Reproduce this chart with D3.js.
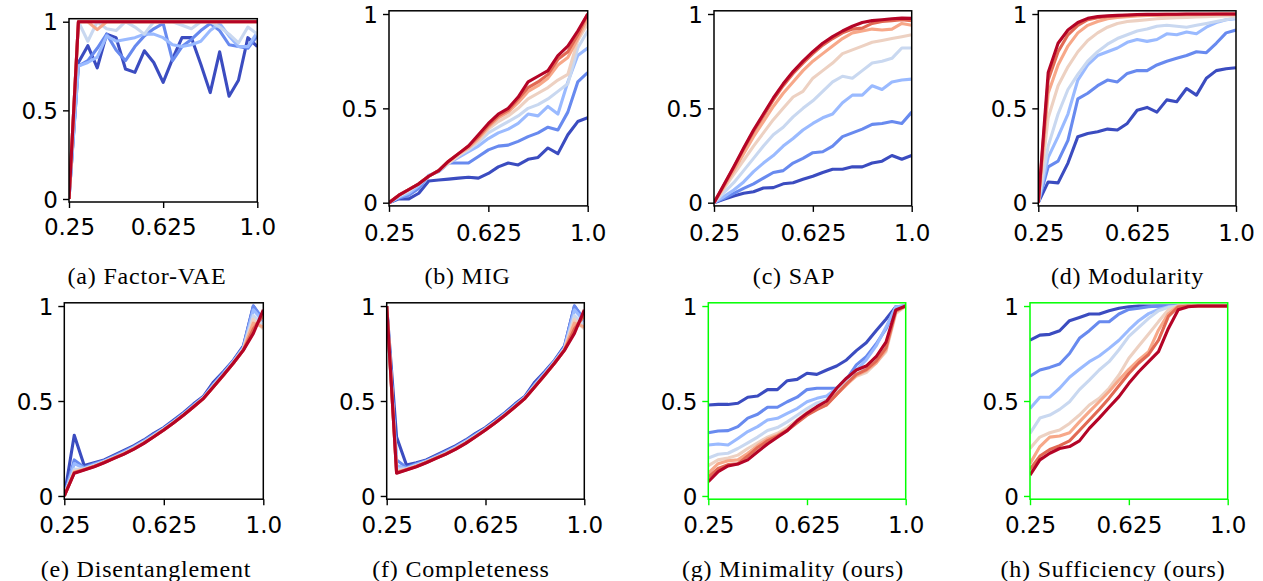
<!DOCTYPE html>
<html>
<head>
<meta charset="utf-8">
<script src="https://cdn.jsdelivr.net/npm/d3@7"></script>
<style>
  body { margin: 0; background: #ffffff; }
  svg { display: block; }
  .tick-label { font-family: "DejaVu Sans", sans-serif; font-size: 23px; fill: #000; }
  .caption { font-family: "Liberation Serif", "Times New Roman", serif; font-size: 24px; fill: #000; letter-spacing: 0.8px; }
</style>
</head>
<body>
<svg id="fig" width="1263" height="581"></svg>
<script>
// Threshold values on the x axis (shared by all eight metrics)
const thresholds = [0.25, 0.2875, 0.325, 0.3625, 0.4, 0.4375, 0.475, 0.5125, 0.55, 0.5875,
  0.625, 0.6625, 0.7, 0.7375, 0.775, 0.8125, 0.85, 0.8875, 0.925, 0.9625, 1.0];

// Axis ticks
const xTicks = [0.25, 0.625, 1.0];
const xTickLabels = ["0.25", "0.625", "1.0"];
const yTicks = [0, 0.5, 1];
const yTickLabels = ["0", "0.5", "1"];

// Eight curves per metric, ordered from blue (first) to red (last)
const lineColors = ["#3b4cc0", "#688aef", "#9abaff", "#c9d8f0", "#edd1c2", "#f7a889", "#e26953", "#b40426"];

const factorVae = [
  [0, 0.77, 0.865, 0.74, 0.93, 0.91, 0.733, 0.714, 0.836, 0.77, 0.658, 0.79, 0.91, 0.91, 0.76, 0.60, 0.83, 0.58, 0.67, 0.91, 0.86],
  [0, 0.75, 0.78, 0.85, 0.93, 0.84, 0.78, 0.86, 0.92, 0.96, 0.99, 0.78, 0.86, 0.90, 0.95, 0.99, 0.95, 0.87, 0.86, 0.85, 0.92],
  [0, 0.75, 0.77, 0.80, 0.92, 0.89, 0.90, 0.91, 0.93, 0.93, 0.91, 0.87, 0.86, 0.87, 0.89, 0.95, 0.99, 0.92, 0.86, 0.86, 0.94],
  [0, 1, 0.89, 1, 0.96, 0.95, 1, 0.97, 0.93, 1, 1, 1, 0.98, 0.96, 1, 1, 0.97, 0.93, 0.88, 0.97, 0.93],
  [0, 1, 1, 1, 1, 1, 1, 1, 1, 1, 1, 1, 1, 1, 1, 1, 1, 1, 1, 1, 1],
  [0, 1, 1, 0.955, 1, 1, 1, 1, 1, 1, 1, 1, 1, 1, 1, 1, 1, 1, 1, 1, 1],
  [0, 1, 1, 1, 1, 1, 1, 1, 1, 1, 1, 1, 1, 1, 1, 1, 1, 1, 1, 1, 1],
  [0, 1, 1, 1, 1, 1, 1, 1, 1, 1, 1, 1, 1, 1, 1, 1, 1, 1, 1, 1, 1]
];

const mig = [
  [0, 0.02, 0.02, 0.05, 0.115, 0.12, 0.125, 0.13, 0.135, 0.13, 0.155, 0.19, 0.21, 0.20, 0.23, 0.24, 0.29, 0.26, 0.36, 0.43, 0.45],
  [0, 0.025, 0.04, 0.075, 0.145, 0.165, 0.21, 0.21, 0.21, 0.245, 0.28, 0.30, 0.305, 0.325, 0.35, 0.37, 0.40, 0.385, 0.48, 0.64, 0.69],
  [0, 0.03, 0.05, 0.09, 0.14, 0.17, 0.21, 0.24, 0.27, 0.30, 0.34, 0.37, 0.39, 0.42, 0.47, 0.46, 0.51, 0.47, 0.64, 0.78, 0.82],
  [0, 0.035, 0.06, 0.10, 0.14, 0.17, 0.21, 0.25, 0.28, 0.32, 0.37, 0.40, 0.43, 0.46, 0.50, 0.52, 0.55, 0.59, 0.63, 0.82, 0.91],
  [0, 0.04, 0.07, 0.10, 0.14, 0.17, 0.21, 0.25, 0.29, 0.33, 0.39, 0.43, 0.46, 0.50, 0.55, 0.58, 0.61, 0.65, 0.68, 0.86, 0.95],
  [0, 0.04, 0.07, 0.10, 0.14, 0.17, 0.22, 0.26, 0.29, 0.34, 0.40, 0.45, 0.48, 0.53, 0.59, 0.62, 0.66, 0.73, 0.77, 0.87, 0.98],
  [0, 0.04, 0.07, 0.10, 0.14, 0.17, 0.22, 0.26, 0.30, 0.35, 0.41, 0.46, 0.49, 0.55, 0.61, 0.64, 0.68, 0.76, 0.80, 0.89, 1.0],
  [0, 0.04, 0.07, 0.10, 0.14, 0.17, 0.22, 0.26, 0.30, 0.36, 0.42, 0.47, 0.50, 0.56, 0.64, 0.67, 0.70, 0.78, 0.83, 0.91, 1.0]
];

const sap = [
  [0, 0.018, 0.035, 0.05, 0.058, 0.078, 0.08, 0.10, 0.106, 0.124, 0.14, 0.16, 0.177, 0.177, 0.19, 0.19, 0.21, 0.22, 0.25, 0.23, 0.25],
  [0, 0.023, 0.05, 0.076, 0.10, 0.13, 0.16, 0.17, 0.21, 0.235, 0.265, 0.27, 0.30, 0.35, 0.37, 0.39, 0.415, 0.42, 0.43, 0.42, 0.48],
  [0, 0.032, 0.067, 0.11, 0.165, 0.21, 0.25, 0.30, 0.34, 0.385, 0.42, 0.45, 0.47, 0.53, 0.57, 0.57, 0.62, 0.60, 0.64, 0.65, 0.655],
  [0, 0.053, 0.106, 0.17, 0.235, 0.30, 0.36, 0.40, 0.455, 0.50, 0.54, 0.59, 0.64, 0.67, 0.66, 0.70, 0.74, 0.75, 0.765, 0.82, 0.82],
  [0, 0.075, 0.15, 0.225, 0.30, 0.37, 0.44, 0.50, 0.56, 0.59, 0.66, 0.70, 0.74, 0.79, 0.81, 0.83, 0.85, 0.86, 0.87, 0.88, 0.89],
  [0, 0.085, 0.17, 0.26, 0.35, 0.43, 0.51, 0.58, 0.64, 0.70, 0.75, 0.79, 0.83, 0.87, 0.90, 0.91, 0.92, 0.915, 0.92, 0.95, 0.94],
  [0, 0.093, 0.187, 0.285, 0.378, 0.46, 0.545, 0.62, 0.685, 0.74, 0.79, 0.835, 0.87, 0.90, 0.92, 0.925, 0.95, 0.96, 0.965, 0.97, 0.965],
  [0, 0.095, 0.19, 0.29, 0.385, 0.47, 0.555, 0.63, 0.695, 0.75, 0.80, 0.845, 0.88, 0.91, 0.935, 0.955, 0.965, 0.97, 0.975, 0.978, 0.977]
];

const modularity = [
  [0, 0.11, 0.105, 0.21, 0.35, 0.367, 0.376, 0.39, 0.385, 0.42, 0.49, 0.505, 0.48, 0.545, 0.535, 0.605, 0.57, 0.66, 0.70, 0.71, 0.715],
  [0, 0.19, 0.22, 0.33, 0.55, 0.58, 0.62, 0.65, 0.64, 0.685, 0.70, 0.70, 0.73, 0.75, 0.765, 0.78, 0.80, 0.795, 0.845, 0.90, 0.915],
  [0, 0.24, 0.35, 0.47, 0.65, 0.73, 0.78, 0.80, 0.82, 0.85, 0.865, 0.855, 0.865, 0.895, 0.89, 0.905, 0.895, 0.93, 0.955, 0.97, 0.975],
  [0, 0.30, 0.47, 0.60, 0.68, 0.75, 0.80, 0.84, 0.87, 0.89, 0.91, 0.92, 0.935, 0.94, 0.935, 0.93, 0.94, 0.95, 0.96, 0.97, 0.98],
  [0, 0.45, 0.62, 0.72, 0.80, 0.86, 0.90, 0.93, 0.95, 0.96, 0.965, 0.97, 0.975, 0.978, 0.98, 0.982, 0.984, 0.986, 0.988, 0.99, 0.99],
  [0, 0.58, 0.73, 0.83, 0.90, 0.94, 0.96, 0.975, 0.982, 0.986, 0.99, 0.992, 0.993, 0.994, 0.995, 0.996, 0.996, 0.997, 0.997, 0.998, 0.998],
  [0, 0.65, 0.80, 0.89, 0.94, 0.97, 0.98, 0.987, 0.99, 0.993, 0.995, 0.996, 0.997, 0.998, 0.998, 0.999, 0.999, 0.999, 1, 1, 1],
  [0, 0.69, 0.845, 0.915, 0.955, 0.977, 0.986, 0.99, 0.993, 0.995, 0.997, 0.998, 0.998, 0.999, 0.999, 1, 1, 1, 1, 1, 1]
];

const disentanglement = [
  [0, 0.32, 0.16, 0.175, 0.19, 0.215, 0.24, 0.265, 0.295, 0.33, 0.36, 0.40, 0.44, 0.485, 0.525, 0.60, 0.655, 0.715, 0.79, 1.0, 0.92],
  [0, 0.19, 0.15, 0.17, 0.185, 0.21, 0.235, 0.26, 0.29, 0.325, 0.355, 0.395, 0.435, 0.48, 0.52, 0.59, 0.65, 0.71, 0.785, 1.0, 0.93],
  [0, 0.17, 0.145, 0.165, 0.183, 0.205, 0.23, 0.257, 0.287, 0.32, 0.355, 0.39, 0.43, 0.475, 0.52, 0.585, 0.645, 0.71, 0.78, 0.98, 0.92],
  [0, 0.14, 0.143, 0.16, 0.18, 0.203, 0.226, 0.253, 0.283, 0.317, 0.352, 0.39, 0.43, 0.473, 0.517, 0.58, 0.64, 0.705, 0.775, 0.95, 0.90],
  [0, 0.13, 0.14, 0.158, 0.178, 0.20, 0.224, 0.25, 0.28, 0.315, 0.35, 0.388, 0.428, 0.47, 0.515, 0.578, 0.635, 0.70, 0.77, 0.93, 0.88],
  [0, 0.125, 0.14, 0.156, 0.177, 0.20, 0.222, 0.249, 0.279, 0.313, 0.349, 0.387, 0.427, 0.47, 0.514, 0.576, 0.636, 0.70, 0.77, 0.91, 0.89],
  [0, 0.122, 0.138, 0.155, 0.176, 0.199, 0.221, 0.248, 0.278, 0.312, 0.348, 0.386, 0.426, 0.47, 0.514, 0.575, 0.637, 0.70, 0.768, 0.88, 0.95],
  [0, 0.12, 0.137, 0.154, 0.175, 0.198, 0.22, 0.247, 0.277, 0.312, 0.347, 0.386, 0.426, 0.47, 0.514, 0.575, 0.637, 0.70, 0.768, 0.856, 0.98]
];

const completeness = [
  [1, 0.31, 0.163, 0.175, 0.19, 0.215, 0.24, 0.265, 0.295, 0.33, 0.36, 0.40, 0.44, 0.485, 0.525, 0.60, 0.655, 0.715, 0.79, 1.0, 0.92],
  [1, 0.19, 0.15, 0.17, 0.185, 0.21, 0.235, 0.26, 0.29, 0.325, 0.355, 0.395, 0.435, 0.48, 0.52, 0.59, 0.65, 0.71, 0.785, 1.0, 0.93],
  [1, 0.16, 0.145, 0.165, 0.183, 0.205, 0.23, 0.257, 0.287, 0.32, 0.355, 0.39, 0.43, 0.475, 0.52, 0.585, 0.645, 0.71, 0.78, 0.98, 0.92],
  [1, 0.14, 0.143, 0.16, 0.18, 0.203, 0.226, 0.253, 0.283, 0.317, 0.352, 0.39, 0.43, 0.473, 0.517, 0.58, 0.64, 0.705, 0.775, 0.95, 0.90],
  [1, 0.13, 0.14, 0.158, 0.178, 0.20, 0.224, 0.25, 0.28, 0.315, 0.35, 0.388, 0.428, 0.47, 0.515, 0.578, 0.635, 0.70, 0.77, 0.93, 0.88],
  [1, 0.125, 0.14, 0.156, 0.177, 0.20, 0.222, 0.249, 0.279, 0.313, 0.349, 0.387, 0.427, 0.47, 0.514, 0.576, 0.636, 0.70, 0.77, 0.91, 0.89],
  [1, 0.122, 0.138, 0.155, 0.176, 0.199, 0.221, 0.248, 0.278, 0.312, 0.348, 0.386, 0.426, 0.47, 0.514, 0.575, 0.637, 0.70, 0.768, 0.88, 0.95],
  [1, 0.12, 0.137, 0.154, 0.175, 0.198, 0.22, 0.247, 0.277, 0.312, 0.347, 0.386, 0.426, 0.47, 0.514, 0.575, 0.637, 0.70, 0.768, 0.856, 0.98]
];

const minimality = [
  [0.479, 0.482, 0.482, 0.488, 0.52, 0.526, 0.56, 0.56, 0.607, 0.614, 0.646, 0.64, 0.663, 0.684, 0.716, 0.765, 0.807, 0.87, 0.93, 0.996, 1.0],
  [0.333, 0.342, 0.344, 0.365, 0.41, 0.43, 0.467, 0.467, 0.496, 0.52, 0.56, 0.567, 0.567, 0.567, 0.614, 0.69, 0.733, 0.80, 0.88, 0.996, 1.0],
  [0.268, 0.274, 0.268, 0.303, 0.339, 0.365, 0.40, 0.409, 0.435, 0.46, 0.496, 0.514, 0.526, 0.567, 0.62, 0.663, 0.716, 0.79, 0.888, 0.996, 1.0],
  [0.20, 0.22, 0.225, 0.25, 0.28, 0.31, 0.345, 0.36, 0.39, 0.425, 0.46, 0.49, 0.505, 0.55, 0.60, 0.64, 0.67, 0.73, 0.80, 0.97, 1.0],
  [0.16, 0.19, 0.20, 0.215, 0.25, 0.28, 0.31, 0.33, 0.36, 0.40, 0.44, 0.47, 0.49, 0.54, 0.59, 0.63, 0.65, 0.70, 0.76, 0.96, 1.0],
  [0.12, 0.17, 0.185, 0.19, 0.225, 0.265, 0.30, 0.32, 0.35, 0.39, 0.43, 0.46, 0.48, 0.535, 0.585, 0.635, 0.66, 0.70, 0.77, 0.97, 1.0],
  [0.10, 0.145, 0.165, 0.17, 0.21, 0.255, 0.29, 0.315, 0.345, 0.385, 0.425, 0.455, 0.48, 0.535, 0.59, 0.64, 0.665, 0.71, 0.78, 0.975, 1.0],
  [0.075, 0.128, 0.158, 0.168, 0.19, 0.233, 0.274, 0.309, 0.344, 0.396, 0.435, 0.47, 0.50, 0.567, 0.62, 0.663, 0.684, 0.733, 0.81, 0.98, 1.0]
];

const sufficiency = [
  [0.82, 0.847, 0.851, 0.87, 0.923, 0.94, 0.958, 0.958, 0.975, 0.988, 0.996, 1, 1, 1, 1, 1, 1, 1, 1, 1, 1],
  [0.63, 0.663, 0.677, 0.695, 0.75, 0.83, 0.87, 0.917, 0.917, 0.958, 0.982, 0.988, 0.996, 1, 1, 1, 1, 1, 1, 1, 1],
  [0.46, 0.52, 0.52, 0.567, 0.625, 0.667, 0.707, 0.737, 0.777, 0.82, 0.874, 0.923, 0.96, 0.982, 0.996, 1, 1, 1, 1, 1, 1],
  [0.33, 0.41, 0.426, 0.456, 0.496, 0.56, 0.61, 0.663, 0.707, 0.77, 0.84, 0.888, 0.935, 0.975, 0.993, 1, 1, 1, 1, 1, 1],
  [0.25, 0.31, 0.333, 0.347, 0.382, 0.426, 0.479, 0.514, 0.567, 0.637, 0.725, 0.79, 0.853, 0.918, 0.98, 1, 1, 1, 1, 1, 1],
  [0.17, 0.26, 0.31, 0.316, 0.333, 0.39, 0.444, 0.496, 0.55, 0.61, 0.667, 0.716, 0.76, 0.874, 0.96, 1, 1, 1, 1, 1, 1],
  [0.14, 0.21, 0.245, 0.265, 0.29, 0.345, 0.40, 0.455, 0.515, 0.58, 0.645, 0.70, 0.745, 0.82, 0.945, 0.995, 1, 1, 1, 1, 1],
  [0.11, 0.19, 0.225, 0.25, 0.26, 0.29, 0.356, 0.41, 0.467, 0.523, 0.593, 0.654, 0.707, 0.76, 0.882, 0.98, 0.996, 1, 1, 1, 1]
];

// Placement of each sub-plot (axes box in px, frame colour, caption position)
const yDomain = [-0.017, 1.017];
const panels = [
  { caption: "(a) Factor-VAE",        data: factorVae,       frame: "#000000", left: 69,    right: 257.3, top: 18.7,  bottom: 202,   xLabelDy: 33,   capX: 147,   capY: 284 },
  { caption: "(b) MIG",               data: mig,             frame: "#000000", left: 389,   right: 587.7, top: 10.8,  bottom: 205.9, xLabelDy: 35.5, capX: 467.5, capY: 284 },
  { caption: "(c) SAP",               data: sap,             frame: "#000000", left: 714,   right: 911.7, top: 10.8,  bottom: 205.9, xLabelDy: 35.5, capX: 794,   capY: 284 },
  { caption: "(d) Modularity",        data: modularity,      frame: "#000000", left: 1038.3,right: 1236,  top: 10.8,  bottom: 205.9, xLabelDy: 35.5, capX: 1127.5,capY: 284 },
  { caption: "(e) Disentanglement",   data: disentanglement, frame: "#000000", left: 64.3,  right: 263.3, top: 302.8, bottom: 499.2, xLabelDy: 34,   capX: 146,   capY: 577 },
  { caption: "(f) Completeness",      data: completeness,    frame: "#000000", left: 386.7, right: 584.3, top: 302.8, bottom: 499.2, xLabelDy: 34,   capX: 461,   capY: 577 },
  { caption: "(g) Minimality (ours)", data: minimality,      frame: "#00ff00", left: 708.3, right: 905.7, top: 302.8, bottom: 499.2, xLabelDy: 34,   capX: 793,   capY: 577 },
  { caption: "(h) Sufficiency (ours)",data: sufficiency,     frame: "#00ff00", left: 1030,  right: 1227.7,top: 302.8, bottom: 499.2, xLabelDy: 34,   capX: 1113,  capY: 577 }
];

const svg = d3.select("#fig");
const tickLen = 6;

panels.forEach((p, k) => {
  const x = d3.scaleLinear().domain([thresholds[0], thresholds[thresholds.length - 1]]).range([p.left, p.right]);
  const y = d3.scaleLinear().domain(yDomain).range([p.bottom, p.top]);
  const g = svg.append("g").attr("class", "panel");

  const clipId = "clip-" + k;
  g.append("clipPath").attr("id", clipId)
    .append("rect")
    .attr("x", p.left).attr("y", p.top)
    .attr("width", p.right - p.left).attr("height", p.bottom - p.top);

  const line = d3.line()
    .x((d, i) => x(thresholds[i]))
    .y(d => y(d));

  g.append("g").attr("clip-path", `url(#${clipId})`)
    .selectAll("path")
    .data(p.data)
    .join("path")
    .attr("d", line)
    .attr("fill", "none")
    .attr("stroke", (d, i) => lineColors[i])
    .attr("stroke-width", 3.1)
    .attr("stroke-linejoin", "round")
    .attr("stroke-linecap", "butt");

  // Axes built with d3's axis generators, styled like a plain box frame
  const xAxis = d3.axisBottom(x).tickValues(xTicks)
    .tickFormat((d, i) => xTickLabels[i]).tickSize(tickLen).tickPadding(0);
  const yAxis = d3.axisLeft(y).tickValues(yTicks)
    .tickFormat((d, i) => yTickLabels[i]).tickSize(tickLen).tickPadding(5);

  const gx = g.append("g").attr("transform", `translate(0,${p.bottom})`).call(xAxis);
  gx.select(".domain").remove();
  gx.selectAll(".tick line").attr("stroke", p.frame).attr("stroke-width", 1.4);
  gx.selectAll(".tick text")
    .attr("class", "tick-label")
    .attr("font-family", null).attr("font-size", null)
    .attr("fill", "#000")
    .attr("y", p.xLabelDy).attr("dy", null);

  const gy = g.append("g").attr("transform", `translate(${p.left},0)`).call(yAxis);
  gy.select(".domain").remove();
  gy.selectAll(".tick line").attr("stroke", p.frame).attr("stroke-width", 1.4);
  gy.selectAll(".tick text")
    .attr("class", "tick-label")
    .attr("font-family", null).attr("font-size", null)
    .attr("fill", "#000")
    .attr("dy", "0.36em");

  // Frame drawn over the curves
  g.append("rect")
    .attr("x", p.left).attr("y", p.top)
    .attr("width", p.right - p.left).attr("height", p.bottom - p.top)
    .attr("fill", "none")
    .attr("stroke", p.frame)
    .attr("stroke-width", 1.5);

  svg.append("text")
    .attr("class", "caption")
    .attr("x", p.capX).attr("y", p.capY)
    .attr("text-anchor", "middle")
    .text(p.caption);
});
</script>
</body>
</html>
